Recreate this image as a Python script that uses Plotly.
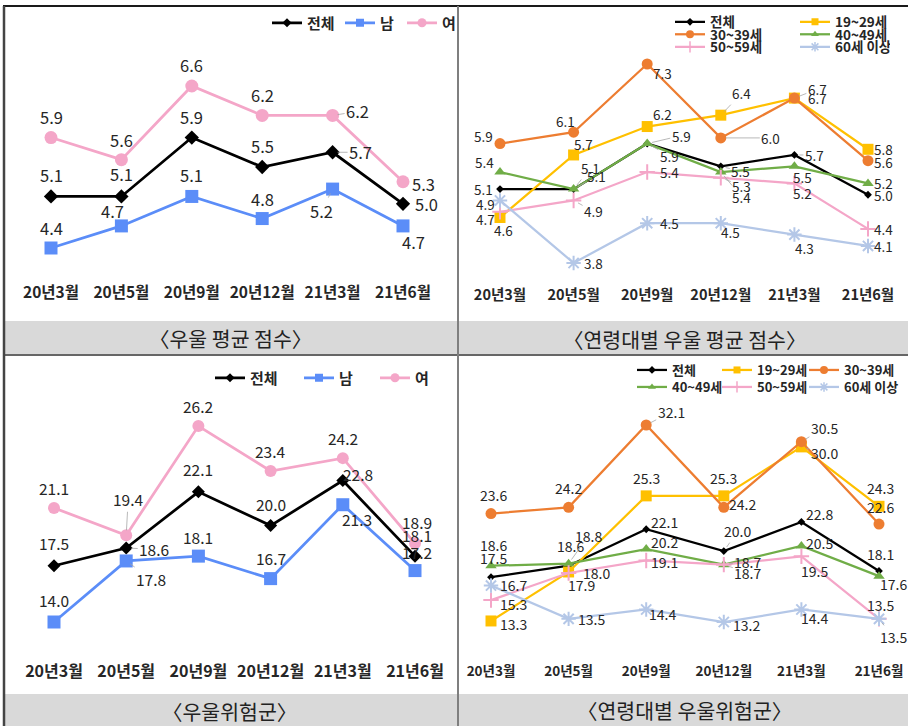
import plotly.graph_objects as go

W, H = 908, 726
FONT = "Noto Sans CJK KR, Noto Sans, sans-serif"

# ---------------- DATA ----------------
categories = ["20년3월", "20년5월", "20년9월", "20년12월", "21년3월", "21년6월"]

gender_names = ["전체", "남", "여"]
age_names = ["전체", "19~29세", "30~39세", "40~49세", "50~59세", "60세 이상"]

# 우울 평균 점수
p1_total = [5.1, 5.1, 5.9, 5.5, 5.7, 5.0]
p1_male = [4.4, 4.7, 5.1, 4.8, 5.2, 4.7]
p1_female = [5.9, 5.6, 6.6, 6.2, 6.2, 5.3]

# 연령대별 우울 평균 점수
p2_total = [5.1, 5.1, 5.9, 5.5, 5.7, 5.0]
p2_20s = [4.6, 5.7, 6.2, 6.4, 6.7, 5.8]
p2_30s = [5.9, 6.1, 7.3, 6.0, 6.7, 5.6]
p2_40s = [5.4, 5.1, 5.9, 5.4, 5.5, 5.2]
p2_50s = [4.7, 4.9, 5.4, 5.3, 5.2, 4.4]
p2_60s = [4.9, 3.8, 4.5, 4.5, 4.3, 4.1]

# 우울위험군
p3_total = [17.5, 18.6, 22.1, 20.0, 22.8, 18.1]
p3_male = [14.0, 17.8, 18.1, 16.7, 21.3, 17.2]
p3_female = [21.1, 19.4, 26.2, 23.4, 24.2, 18.9]

# 연령대별 우울위험군
p4_total = [17.5, 18.6, 22.1, 20.0, 22.8, 18.1]
p4_20s = [13.3, 18.0, 25.3, 25.3, 30.0, 24.3]
p4_30s = [23.6, 24.2, 32.1, 24.2, 30.5, 22.6]
p4_40s = [18.6, 18.8, 20.2, 18.7, 20.5, 17.6]
p4_50s = [15.3, 17.9, 19.1, 18.7, 19.5, 13.5]
p4_60s = [16.7, 13.5, 14.4, 13.2, 14.4, 13.5]

captions = ["〈우울 평균 점수〉", "〈연령대별 우울 평균 점수〉", "〈우울위험군〉", "〈연령대별 우울위험군〉"]

# ---------------- STYLES ----------------
C_TOTAL, C_MALE, C_FEMALE = "#000000", "#5B8DF8", "#F4A6C8"
C20, C30, C40, C50, C60 = "#FFC000", "#ED7D31", "#70AD47", "#F4A6C8", "#B4C7E7"

g_colors = [C_TOTAL, C_MALE, C_FEMALE]
g_symbols = ["diamond", "square", "circle"]
a_colors = [C_TOTAL, C20, C30, C40, C50, C60]
a_symbols = ["diamond", "square", "circle", "triangle-up", "cross-thin", "asterisk"]

TXT = "#262626"


def px2x(p):
    return p / W


def px2y(p):
    return 1 - p / H


fig = go.Figure()
annotations = []
layout_axes = {}


def setup_axes(k, x_first, x_last, pA, vA, pB, vB, y_top, y_bot, tick_size):
    n = len(categories)
    step = (x_last - x_first) / (n - 1)
    kk = "" if k == 1 else str(k)
    d0 = max(0.0, x_first - step / 2)
    d1 = min(float(W), x_last + step / 2)
    slope = (vB - vA) / (pB - pA)
    v_top = vA + (y_top - pA) * slope
    v_bot = vA + (y_bot - pA) * slope
    layout_axes["xaxis" + kk] = dict(
        domain=[px2x(d0), px2x(d1)],
        range=[(d0 - x_first) / step, (d1 - x_first) / step], anchor="y" + kk,
        tickmode="array", tickvals=list(range(n)), ticktext=categories,
        showgrid=False, zeroline=False, showline=False, ticks="",
        tickfont=dict(family=FONT, size=tick_size, color=TXT, weight="bold"),
        fixedrange=True,
    )
    layout_axes["yaxis" + kk] = dict(
        domain=[px2y(y_bot), px2y(y_top)], range=[v_bot, v_top], anchor="x" + kk,
        visible=False, showgrid=False, zeroline=False, fixedrange=True,
    )
    return "x" + kk, "y" + kk


def add_panel(k, series, names, colors, symbols, sizes, lw, geom, offsets,
              label_size, tick_size, legend_rows, leg_sizes, leg_font):
    xr, yr = setup_axes(k, *geom, tick_size)
    for s, (vals, name, col, sym, sz) in enumerate(zip(series, names, colors, symbols, sizes)):
        open_sym = sym in ("cross-thin", "asterisk")
        fig.add_trace(go.Scatter(
            x=list(range(len(categories))), y=vals, xaxis=xr, yaxis=yr,
            mode="lines+markers", name=name, showlegend=False, cliponaxis=False,
            line=dict(color=col, width=lw),
            marker=dict(symbol=sym, size=sz, color=col,
                        line=dict(color=col, width=2 if open_sym else 0)),
            hoverinfo="skip",
        ))
        for i, v in enumerate(vals):
            dx, dy, lead = offsets[s][i]
            ann = dict(x=i, y=v, xref=xr, yref=yr, text=f"{v:.1f}",
                       font=dict(family=FONT, size=label_size, color=TXT))
            if lead:
                ann.update(showarrow=True, ax=dx, ay=dy, arrowhead=0, arrowwidth=0.8,
                           arrowcolor="#A6A6A6", standoff=5)
            else:
                ann.update(showarrow=False, xshift=dx, yshift=-dy)
            annotations.append(ann)
    # legends (one plotly legend per legend row)
    for (lname, x_left, y_c, items, widths) in legend_rows:
        for idx, wdt in zip(items, widths):
            open_sym = symbols[idx] in ("cross-thin", "asterisk")
            fig.add_trace(go.Scatter(
                x=[None], y=[None], xaxis=xr, yaxis=yr, mode="lines+markers",
                name=names[idx], legend=lname, legendwidth=wdt, showlegend=True,
                line=dict(color=colors[idx], width=lw),
                marker=dict(symbol=symbols[idx], size=leg_sizes[idx], color=colors[idx],
                            line=dict(color=colors[idx], width=1.5 if open_sym else 0)),
            ))
        layout_axes[lname] = dict(
            orientation="h", x=px2x(x_left), xanchor="left", y=px2y(y_c), yanchor="middle",
            bgcolor="rgba(0,0,0,0)", borderwidth=0, traceorder="normal",
            entrywidthmode="pixels", itemclick=False, itemdoubleclick=False,
            font=dict(family=FONT, size=leg_font, color=TXT, weight="bold"),
        )


# Panel 1
add_panel(
    1, [p1_total, p1_male, p1_female], gender_names, g_colors, g_symbols, [11, 13, 13], 2.75,
    (51, 403, 86, 6.6, 248, 4.4, 40, 281),
    [
        [(0, -21, 0), (0, -22, 0), (0, -21, 0), (0, -21, 0), (28, 0, 1), (23, 0, 0)],
        [(0, -20, 0), (-9, -15, 0), (0, -21, 0), (0, -20, 0), (-11, 22, 1), (10, 16, 0)],
        [(0, -21, 0), (0, -20, 0), (0, -21, 0), (0, -20, 0), (25, -4, 1), (20, 2, 0)],
    ],
    16.5, 15.5,
    [("legend", 267, 23, [0, 1, 2], [28, 17, 20])],
    [7, 8, 9], 15,
)

# Panel 2
add_panel(
    2, [p2_total, p2_20s, p2_30s, p2_40s, p2_50s, p2_60s], age_names, a_colors, a_symbols,
    [6, 11, 11, 10, 11, 12], 2.25,
    (500, 868, 64, 7.3, 263, 3.8, 55, 284),
    [
        [(-17, 0, 0), (17, -21, 1), (34, -8, 1), (20, 5, 1), (20, 0, 1), (15, 0, 0)],
        [(3, 12, 0), (10, -11, 0), (15, -13, 1), (21, -22, 1), (23, 0, 0), (15, 0, 0)],
        [(-17, -8, 0), (-8, -11, 0), (15, 9, 1), (50, 0, 1), (23, -9, 1), (15, 1, 0)],
        [(-16, -10, 0), (23, -13, 1), (22, 12, 1), (21, 25, 1), (8, 11, 0), (15, 0, 0)],
        [(-15, 7, 0), (20, 11, 1), (22, 0, 0), (21, 8, 1), (8, 10, 0), (15, 0, 0)],
        [(-15, 4, 0), (20, 0, 0), (22, 0, 0), (10, 9, 0), (10, 13, 0), (15, 0, 0)],
    ],
    13.5, 14.5,
    [("legend2", 670, 22, [0, 1], [80, 50]),
     ("legend3", 670, 34.5, [2, 3], [80, 50]),
     ("legend4", 670, 47, [4, 5], [80, 50])],
    [6, 7, 8, 7, 8, 8], 13.5,
)

# Panel 3
add_panel(
    3, [p3_total, p3_male, p3_female], gender_names, g_colors, g_symbols, [10, 13, 12], 2.75,
    (54, 415, 426, 26.2, 622, 14.0, 400, 660),
    [
        [(0, -23, 0), (28, 1, 1), (0, -23, 0), (0, -22, 0), (15, -7, 0), (2, -21, 0)],
        [(0, -22, 0), (25, 18, 1), (0, -19, 0), (0, -21, 0), (14, 14, 0), (2, -19, 0)],
        [(0, -20, 0), (2, -36, 1), (0, -20, 0), (0, -20, 0), (0, -20, 0), (2, -21, 0)],
    ],
    15.5, 16,
    [("legend5", 210, 378, [0, 1, 2], [44, 31, 20])],
    [7, 8, 9], 15,
)

# Panel 4
add_panel(
    4, [p4_total, p4_20s, p4_30s, p4_40s, p4_50s, p4_60s], age_names, a_colors, a_symbols,
    [6, 11, 11, 10, 11, 12], 2.25,
    (491, 879, 425, 32.1, 622, 13.2, 400, 661),
    [
        [(2, -19, 0), (2, -20, 0), (18, -7, 0), (14, -20, 1), (18, -8, 0), (1, -17, 0)],
        [(22, 3, 0), (28, 1, 0), (0, -18, 0), (0, -18, 0), (23, 6, 1), (1, -18, 0)],
        [(2, -19, 0), (0, -19, 0), (25, -13, 1), (19, -3, 0), (23, -14, 1), (1, -17, 0)],
        [(2, -21, 0), (20, -28, 1), (18, -7, 1), (24, -3, 1), (18, -3, 0), (14, 8, 0)],
        [(22, 4, 0), (13, 12, 0), (18, 1, 0), (24, 8, 1), (13, 15, 0), (14, 18, 1)],
        [(22, -1, 0), (23, 0, 0), (16, 5, 0), (23, 3, 0), (13, 9, 0), (1, -14, 0)],
    ],
    14, 13.5,
    [("legend6", 632, 370, [0, 1, 2], [40, 42, 50]),
     ("legend7", 632, 387, [3, 4, 5], [40, 42, 50])],
    [6, 7, 8, 7, 8, 8], 13,
)

# Captions
cap_pos = [(230, 338), (684, 339), (229, 711), (684, 710)]
for text, (cx, cy) in zip(captions, cap_pos):
    annotations.append(dict(
        x=px2x(cx), y=px2y(cy), xref="paper", yref="paper", text=text, showarrow=False,
        xanchor="center", yanchor="middle",
        font=dict(family=FONT, size=20.5, color="#222222"),
    ))

shapes = [
    dict(type="rect", xref="paper", yref="paper", x0=px2x(4), x1=1, y0=px2y(354), y1=px2y(321),
         fillcolor="#D9D9D9", line=dict(width=0), layer="below"),
    dict(type="rect", xref="paper", yref="paper", x0=px2x(4), x1=1, y0=0, y1=px2y(694),
         fillcolor="#D9D9D9", line=dict(width=0), layer="below"),
    dict(type="line", xref="paper", yref="paper", x0=px2x(3), x1=1, y0=px2y(6), y1=px2y(6),
         line=dict(color="#1A1A1A", width=2)),
    dict(type="line", xref="paper", yref="paper", x0=px2x(3), x1=1, y0=px2y(355), y1=px2y(355),
         line=dict(color="#333333", width=1.5)),
    dict(type="line", xref="paper", yref="paper", x0=px2x(4), x1=px2x(4), y0=0, y1=px2y(6),
         line=dict(color="#444444", width=2.5)),
    dict(type="line", xref="paper", yref="paper", x0=px2x(458), x1=px2x(458), y0=0, y1=px2y(6),
         line=dict(color="#7F7F7F", width=2)),
]

fig.update_layout(
    width=W, height=H, margin=dict(l=0, r=0, t=0, b=0),
    paper_bgcolor="white", plot_bgcolor="rgba(0,0,0,0)",
    font=dict(family=FONT, color=TXT),
    annotations=annotations, shapes=shapes,
    hovermode=False,
    **layout_axes,
)

fig.write_html("out.html", config={"displayModeBar": False})
